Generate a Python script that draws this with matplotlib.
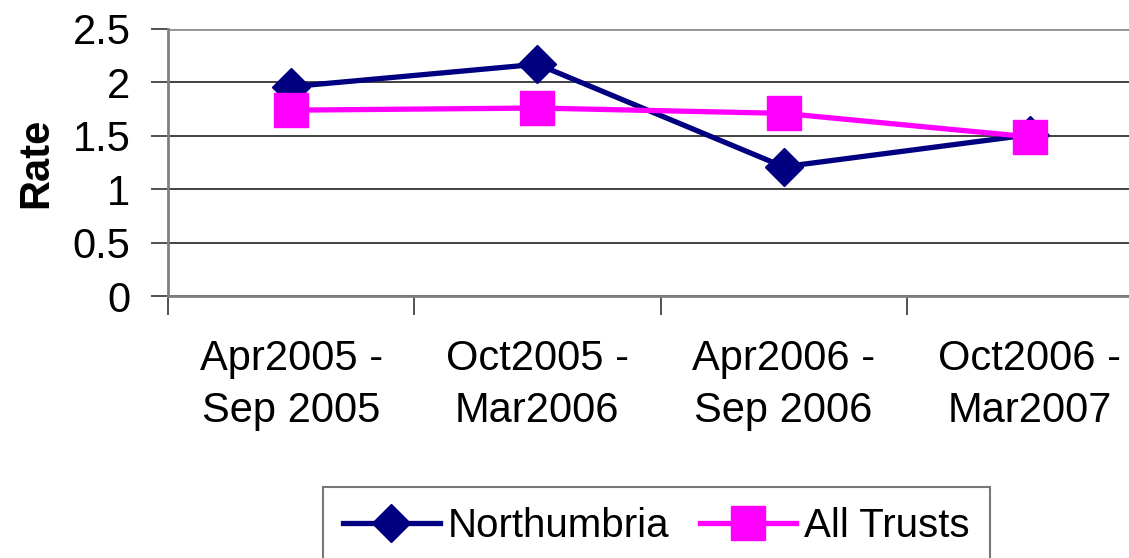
import matplotlib
matplotlib.use("Agg")
import matplotlib.pyplot as plt
import numpy as np

categories = ["Apr2005 -\nSep 2005", "Oct2005 -\nMar2006", "Apr2006 -\nSep 2006", "Oct2006 -\nMar2007"]
northumbria = [1.96, 2.17, 1.21, 1.51]
all_trusts = [1.74, 1.76, 1.71, 1.49]
yticks = [0, 0.5, 1, 1.5, 2, 2.5]
ytick_labels = ["0", "0.5", "1", "1.5", "2", "2.5"]

plt.rcParams['font.family'] = ['Liberation Sans', 'DejaVu Sans']
FS = 30

fig = plt.figure(figsize=(11.29, 5.58), dpi=100)
left = 168 / 1129
right = 1153 / 1129
top = 1 - 29 / 558
bottom = 1 - 296 / 558
ax = fig.add_axes([left, bottom, right - left, top - bottom])

x = np.arange(len(categories))
ax.plot(x, northumbria, color="#000080", lw=3.8, marker="D", markersize=19,
        markeredgecolor="#000080", label="Northumbria", zorder=3)
ax.plot(x, all_trusts, color="#FF00FF", lw=3.8, marker="s", markersize=24,
        markeredgecolor="#FF00FF", label="All Trusts", zorder=4)

ax.set_xlim(-0.5, len(categories) - 0.5)
ax.set_ylim(0, 2.5)
ax.set_yticks(yticks)
ax.set_yticklabels(ytick_labels, fontsize=FS)
ax.set_xticks(x)
ax.set_xticklabels(categories, fontsize=FS, linespacing=1.38)
ax.set_xticks(np.arange(len(categories) + 1) - 0.5, minor=True)
ax.tick_params(axis="x", which="major", length=0, pad=31)
ax.tick_params(axis="x", which="minor", length=14, width=1.2, color="#333333", direction="out")
ax.tick_params(axis="y", which="major", length=12, width=1.2, color="#333333", pad=15)

ax.grid(axis="y", color="#222222", lw=1.2)
ax.set_axisbelow(True)
for s in ["top", "right"]:
    ax.spines[s].set_visible(False)
ax.spines["left"].set_color("#808080")
ax.spines["left"].set_linewidth(2)
ax.spines["bottom"].set_color("#808080")
ax.spines["bottom"].set_linewidth(2)
ax.axhline(2.5, color="#909090", lw=2, zorder=1)

ax.set_ylabel("Rate", fontsize=FS, fontweight="bold")
ax.yaxis.set_label_coords((56 - 168) / (1153 - 168), 0.5)

leg = fig.legend(loc="upper left", bbox_to_anchor=(323/1129, 1 - 487/558), ncol=2,
                 fontsize=29, frameon=True, fancybox=False, handlelength=2.4,
                 handletextpad=0.2, columnspacing=0.75, borderpad=0.5,
                 borderaxespad=0)
leg.get_frame().set_edgecolor("#555555")
leg.get_frame().set_linewidth(1.5)

fig.savefig("out.png", dpi=100)
